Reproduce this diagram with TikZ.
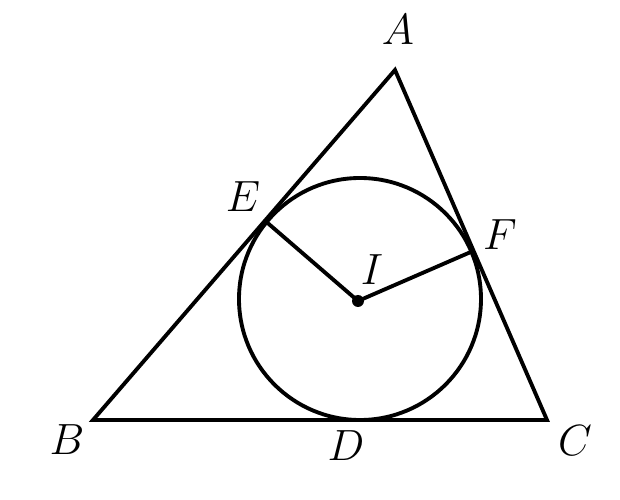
\documentclass[tikz,border=0pt]{standalone}
\usetikzlibrary{calc}
\begin{document}
\begin{tikzpicture}[x=0.02cm,y=-0.02cm,line width=2.2pt,
    lbl/.style={font=\fontsize{29}{29}\selectfont,inner sep=0pt}]
  \useasboundingbox (0,0) rectangle (620,500);

  \coordinate (A) at (395,70);
  \coordinate (B) at (93,420);
  \coordinate (C) at (547,420);
  \coordinate (I) at (358,301);
  \coordinate (E) at ($(A)!(I)!(B)$);
  \coordinate (F) at ($(A)!(I)!(C)$);

  \draw[line join=miter] (A) -- (B) -- (C) -- cycle;
  \draw (360,299) circle[radius=121];
  \draw (E) -- (I) -- (F);
  \fill (I) circle[radius=6];

  \node[lbl] (lA) at (398,30) {$A$};
  \node[lbl] (lB) at (67,440) {$B$};
  \node[lbl] (lC) at (575,441) {$C$};
  \node[lbl] (lD) at (346,446) {$D$};
  \node[lbl] (lE) at (243,197) {$E$};
  \node[lbl] (lF) at (500,235) {$F$};
  \node[lbl] (lI) at (372,270) {$I$};
\end{tikzpicture}
\end{document}
